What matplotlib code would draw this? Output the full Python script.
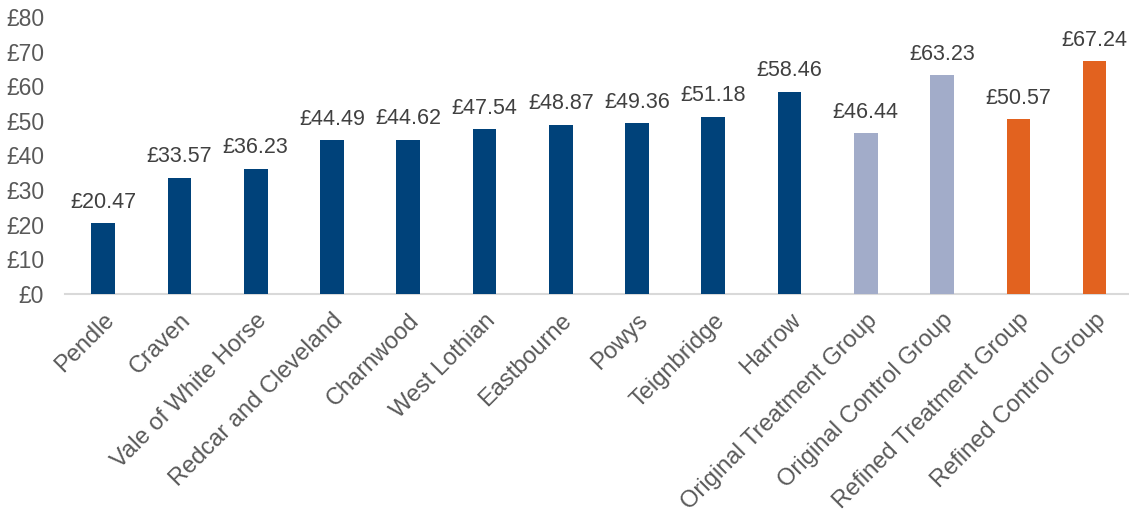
import matplotlib
matplotlib.use("Agg")
from matplotlib import pyplot

plt = pyplot
plt.rcParams['font.family'] = ['Liberation Sans', 'DejaVu Sans']

areas = ['Pendle', 'Craven', 'Vale of White Horse', 'Redcar and Cleveland',
         'Charnwood', 'West Lothian', 'Eastbourne', 'Powys', 'Teignbridge',
         'Harrow', 'Original Treatment Group', 'Original Control Group',
         'Refined Treatment Group', 'Refined Control Group']
values = [20.47, 33.57, 36.23, 44.49, 44.62, 47.54, 48.87, 49.36, 51.18,
          58.46, 46.44, 63.23, 50.57, 67.24]
colours = ['#00427a'] * 10 + ['#a2acc9'] * 2 + ['#e2621f'] * 2

figure = plt.figure(figsize=(11.29, 5.16), dpi=100)
axes = figure.add_axes([65 / 1129, 1 - 294 / 516, 1 - 65 / 1129, (294 - 17) / 516])

x = range(len(areas))
bars = axes.bar(x, values, width=0.31, color=colours, zorder=3)

# value labels above each bar
for xi, v in zip(x, values):
    axes.text(xi, v + 3, '£%.2f' % v, ha='center', va='bottom',
              fontsize=15.5, color='#404040')

axes.set_ylim(0, 80)
axes.set_xlim(-0.5, 13.45)
axes.set_yticks(range(0, 81, 10))
axes.set_yticklabels(['£%d' % t for t in range(0, 81, 10)])
axes.set_xticks(list(x))
axes.set_xticklabels(areas, rotation=45, ha='right', rotation_mode='anchor')
axes.tick_params(axis='both', length=0, labelcolor='#595959')
axes.tick_params(axis='y', pad=15, labelsize=16.5)
axes.tick_params(axis='x', pad=11, labelsize=17)

for side in ['top', 'right', 'left']:
    axes.spines[side].set_visible(False)
axes.spines['bottom'].set_color('#d9d9d9')
axes.spines['bottom'].set_linewidth(1.5)

figure.savefig('out.png', dpi=100)
